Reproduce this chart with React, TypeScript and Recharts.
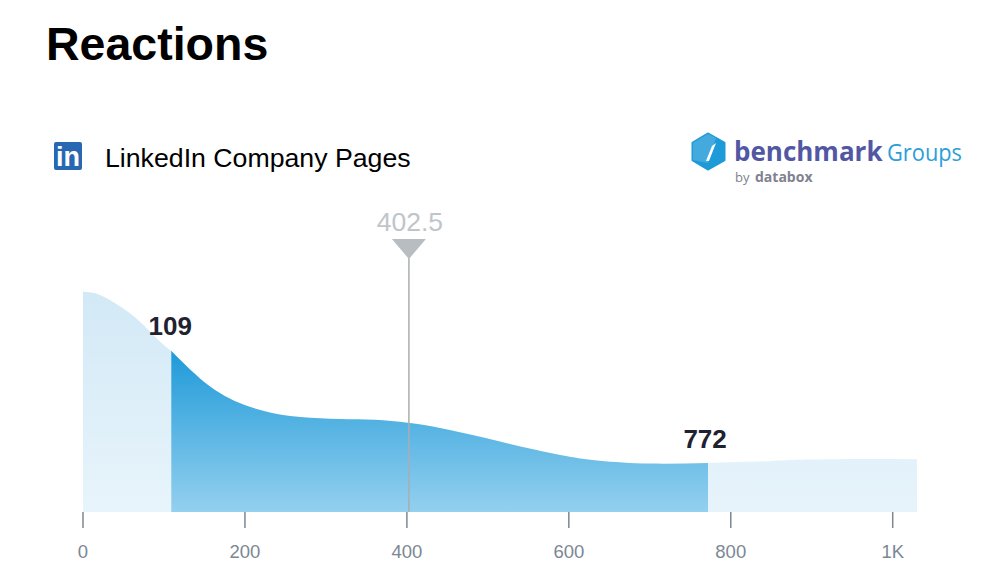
import { AreaChart, Area, XAxis, YAxis, ReferenceLine, ReferenceDot } from 'recharts'

// shape of the distribution (peak = 100)
const reactionValues = [0, 21, 46, 70, 95, 109, 157, 206, 256, 305, 350, 391, 432, 474, 515, 556, 598, 638, 700, 772, 850, 894, 960, 1030]
const densityValues = [100, 98.6, 93.3, 86.5, 77.4, 73.2, 57, 47.8, 43.6, 42.4, 42, 41, 38.8, 35.5, 32, 28.5, 25.3, 23.3, 22, 22.3, 23.2, 23.8, 24.1, 24]
const xTicks = [0, 200, 400, 600, 800, 1000]

const lowerQuartile = 109
const upperQuartile = 772
const median = 402.5

const chartData = reactionValues.map((x, i) => ({
  x,
  low: x <= lowerQuartile ? densityValues[i] : null,
  mid: x >= lowerQuartile && x <= upperQuartile ? densityValues[i] : null,
  high: x >= upperQuartile ? densityValues[i] : null,
}))

const densityAt = (x: number) => densityValues[reactionValues.indexOf(x)]
const FONT = '"Liberation Sans", Arial, sans-serif'
const LOGO_FONT = '"Open Sans", sans-serif'

function BoldLabel({ viewBox, value, dx = 0, dy = 0 }: any) {
  return (
    <text x={viewBox.x + dx} y={viewBox.y + dy} textAnchor="middle" fontFamily={FONT} fontSize={26} fontWeight={700} fill="#1f2230">
      {value}
    </text>
  )
}

function MedianMarker({ cx, cy }: any) {
  return (
    <g>
      <path d={`M${cx - 17} ${cy} L${cx + 17} ${cy} L${cx} ${cy + 20} Z`} fill="#b8bdc2" />
      <text x={cx + 1} y={cy - 8} textAnchor="middle" fontFamily={FONT} fontSize={26.5} fill="#c0c5ca">
        {median}
      </text>
    </g>
  )
}

function Logos() {
  return (
    <svg width={1000} height={200} style={{ position: 'absolute', left: 0, top: 0 }}>
      <rect x={54} y={142} width={28} height={28} rx={2} fill="#2867b2" />
      <text x={68} y={166} textAnchor="middle" fontFamily={FONT} fontSize={27} fontWeight={700} fill="#fff">in</text>
      <path d="M708 134 L724 143 L724 160 L708 169 L693 160 L693 143 Z" fill="#1f9ad8" stroke="#1f9ad8" strokeWidth={3} strokeLinejoin="round" />
      <path d="M708 134 L716 138 L708 163 L693 160 L693 143 Z" fill="#5db6e3" opacity={0.6} />
      <path d="M712 146 L716 143 L709 161 L706 161 Z" fill="#fff" />
      <text x={734} y={161} fontFamily={LOGO_FONT} fontSize={26} fontWeight={700} fill="#5257a4">benchmark</text>
      <text x={887} y={161} fontFamily={LOGO_FONT} fontSize={24} fill="#2ba0d8" textLength={75} lengthAdjust="spacingAndGlyphs">Groups</text>
      <text x={735} y={182} fontFamily={LOGO_FONT} fontSize={13} fill="#80828f">by</text>
      <text x={755} y={182} fontFamily={LOGO_FONT} fontSize={14} fontWeight={700} fill="#80828f">databox</text>
    </svg>
  )
}

export default function App() {
  return (
    <div style={{ position: 'absolute', left: 0, top: 0, width: 1000, height: 563, background: '#fff', overflow: 'hidden', fontFamily: FONT }}>
      <div style={{ position: 'absolute', left: 46, top: 17, fontSize: 46.5, fontWeight: 700, color: '#000', lineHeight: '54px' }}>Reactions</div>
      <div style={{ position: 'absolute', left: 105, top: 142, fontSize: 26.7, color: '#000', lineHeight: '32px' }}>LinkedIn Company Pages</div>
      <Logos />
      <div style={{ position: 'absolute', left: 0, top: 0 }}>
        <AreaChart width={1000} height={563} data={chartData} margin={{ top: 239, right: 83, bottom: 0, left: 83 }}>
          <defs>
            <linearGradient id="midFill" x1="0" y1="0" x2="0" y2="1">
              <stop offset="0%" stopColor="#1f9ad8" />
              <stop offset="100%" stopColor="#94d0ef" />
            </linearGradient>
            <linearGradient id="lowFill" x1="0" y1="0" x2="0" y2="1">
              <stop offset="0%" stopColor="#d2e9f6" />
              <stop offset="100%" stopColor="#e8f4fb" />
            </linearGradient>
            <linearGradient id="highFill" x1="0" y1="0" x2="0" y2="1">
              <stop offset="0%" stopColor="#e2f1fa" />
              <stop offset="100%" stopColor="#e7f3fb" />
            </linearGradient>
          </defs>
          <XAxis
            dataKey="x"
            type="number"
            domain={[0, 1030]}
            ticks={xTicks}
            tickFormatter={(v: number) => (v === 1000 ? '1K' : String(v))}
            axisLine={false}
            tickLine={{ stroke: '#7c8794', strokeWidth: 1.5 }}
            tickSize={16}
            tickMargin={17}
            height={51}
            tick={{ fill: '#7c8794', fontSize: 18.5, fontFamily: FONT }}
            interval={0}
          />
          <YAxis hide domain={[0, 124]} />
          <Area dataKey="low" type="natural" stroke="none" fill="url(#lowFill)" fillOpacity={1} dot={false} activeDot={false} isAnimationActive={false} />
          <Area dataKey="mid" type="natural" stroke="none" fill="url(#midFill)" fillOpacity={1} dot={false} activeDot={false} isAnimationActive={false} />
          <Area dataKey="high" type="natural" stroke="none" fill="url(#highFill)" fillOpacity={1} dot={false} activeDot={false} isAnimationActive={false} />
          <ReferenceLine segment={[{ x: median, y: 0 }, { x: median, y: 124 }]} stroke="#a9aeb3" strokeWidth={1.5} />
          <ReferenceDot x={median} y={124} r={0} shape={<MedianMarker />} />
          <ReferenceDot x={lowerQuartile} y={densityAt(lowerQuartile)} r={0} fill="none" stroke="none"
            label={<BoldLabel value={lowerQuartile} dx={-1} dy={-16} />} />
          <ReferenceDot x={upperQuartile} y={densityAt(upperQuartile)} r={0} fill="none" stroke="none"
            label={<BoldLabel value={upperQuartile} dx={-3} dy={-15} />} />
        </AreaChart>
      </div>
    </div>
  )
}
